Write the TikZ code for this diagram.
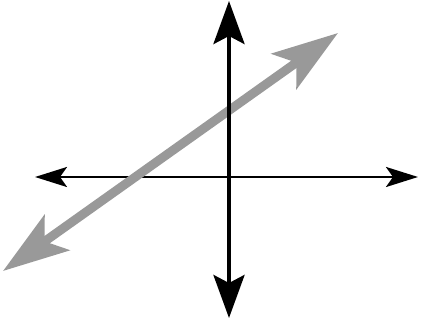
\documentclass[tikz,border=0pt]{standalone}
\usetikzlibrary{arrows.meta}
\definecolor{linegray}{RGB}{153,153,153}
\tikzset{
  axisH/.style={line width=2.5pt, black, {Stealth[length=32pt,width=20pt,inset=7pt]}-{Stealth[length=32pt,width=20pt,inset=7pt]}},
  axisV/.style={line width=4pt, black, {Stealth[length=43pt,width=31pt,inset=8pt]}-{Stealth[length=43pt,width=31pt,inset=8pt]}},
  grayline/.style={line width=9pt, linegray, {Stealth[length=66pt,width=43pt,inset=15pt]}-{Stealth[length=66pt,width=43pt,inset=15pt]}}
}
\begin{document}
\begin{tikzpicture}[x=1pt,y=-1pt]
\useasboundingbox (0,0) rectangle (424,326);
\coordinate (hl) at (35,177);
\coordinate (hr) at (418,177);
\coordinate (vt) at (229,1);
\coordinate (vb) at (229,318);
\coordinate (gl) at (3,271);
\coordinate (gr) at (338,33);
\draw[axisH] (hl) -- (hr);
\draw[grayline] (gl) -- (gr);
\draw[axisV] (vb) -- (vt);
\end{tikzpicture}
\end{document}
